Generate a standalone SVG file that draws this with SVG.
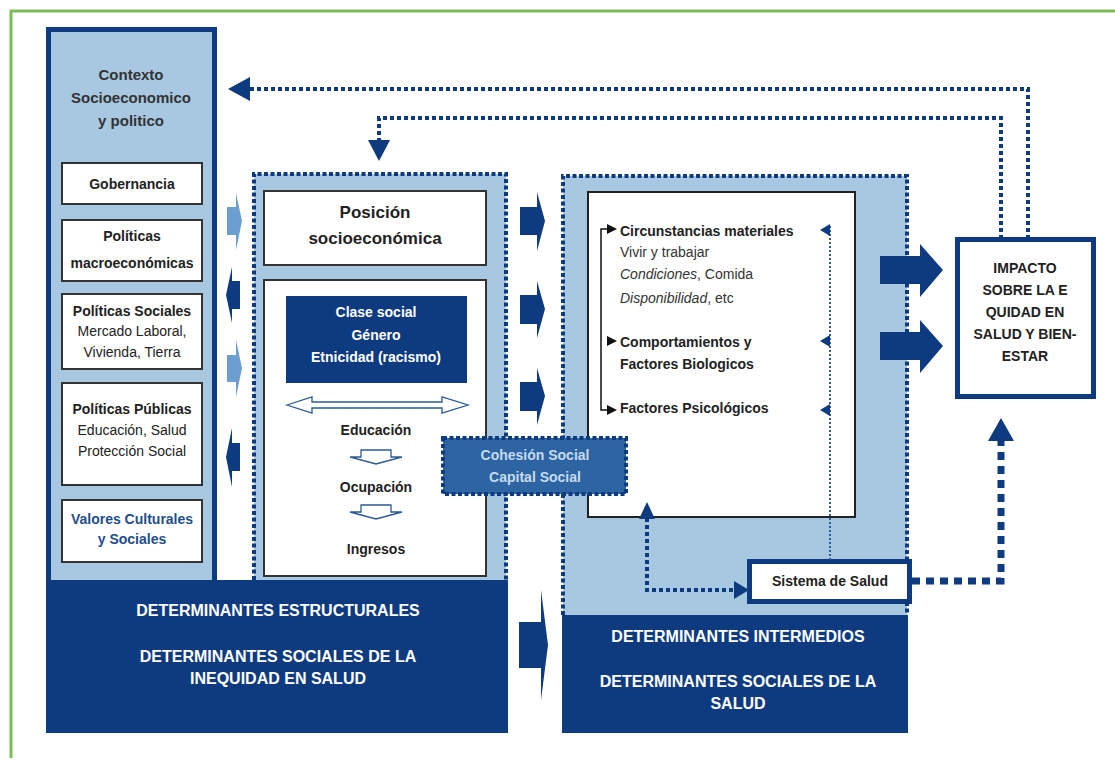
<svg xmlns="http://www.w3.org/2000/svg" width="1115" height="762" viewBox="0 0 1115 762">
<style>
text{font-family:"Liberation Sans",Arial,sans-serif;}
.b{font-weight:bold;}
.c{text-anchor:middle;}
.t{fill:#222;font-size:14px;}
.w{fill:#fff;}
.dk{fill:#0e3b80;}
.lt{fill:#a8c8e2;}
.wb{fill:#fff;stroke:#333;stroke-width:2;}
.dot{fill:none;stroke:#0e3b80;stroke-width:4;stroke-dasharray:4 2.5;}
.dotl{fill:none;stroke:#0e3b80;stroke-width:4;stroke-dasharray:4 3;}
.hol{fill:#fff;stroke:#2c5a96;stroke-width:1.3;}
.ltar{fill:#6c9fcf;}
.big{fill:#fff;font-size:16px;font-weight:bold;}
</style>
<rect width="1115" height="762" fill="#fff"/>
<path d="M11 758 V11 H1115" fill="none" stroke="#7dbb57" stroke-width="3"/>

<g id="contexto">
<rect x="48.5" y="29.5" width="166" height="553" class="lt" stroke="#0e3b80" stroke-width="5"/>
<text class="b c" x="131" y="80" fill="#333" font-size="15">Contexto</text>
<text class="b c" x="131" y="103" fill="#333" font-size="15">Socioeconomico</text>
<text class="b c" x="131" y="126" fill="#333" font-size="15">y politico</text>
</g>
<g id="gobernancia">
<rect x="62" y="163" width="140" height="41" class="wb"/>
<text class="t b c" x="132" y="189">Gobernancia</text>
</g>
<g id="macro">
<rect x="62" y="220" width="140" height="61" class="wb"/>
<text class="t b c" x="132" y="241">Políticas</text>
<text class="t b c" x="132" y="268">macroeconómicas</text>
</g>
<g id="sociales">
<rect x="62" y="294" width="140" height="75" class="wb"/>
<text class="t b c" x="132" y="316">Políticas Sociales</text>
<text class="t c" x="132" y="336">Mercado Laboral,</text>
<text class="t c" x="132" y="357">Vivienda, Tierra</text>
</g>
<g id="publicas">
<rect x="62" y="383" width="140" height="102" class="wb"/>
<text class="t b c" x="132" y="414">Políticas Públicas</text>
<text class="t c" x="132" y="435">Educación, Salud</text>
<text class="t c" x="132" y="456">Protección Social</text>
</g>
<g id="valores">
<rect x="62" y="500" width="140" height="62" class="wb"/>
<text class="b c" x="132" y="524" fill="#1f4e8c" font-size="14">Valores Culturales</text>
<text class="b c" x="132" y="544" fill="#1f4e8c" font-size="14">y Sociales</text>
</g>

<g id="estructurales">
<rect x="46" y="580" width="462" height="153" class="dk"/>
<text class="big c" x="278" y="616">DETERMINANTES ESTRUCTURALES</text>
<text class="big c" x="278" y="662">DETERMINANTES SOCIALES DE LA</text>
<text class="big c" x="278" y="684">INEQUIDAD EN SALUD</text>
</g>

<g id="posicion-region">
<rect x="254" y="174" width="252" height="406" class="lt"/>
<path d="M254 580 V174 H506 V580" class="dot"/>
</g>
<g id="posicion">
<rect x="264" y="191" width="222" height="74" class="wb"/>
<text class="b c" x="375" y="218" fill="#222" font-size="17">Posición</text>
<text class="b c" x="375" y="244" fill="#222" font-size="17">socioeconómica</text>
</g>
<g id="estratificadores">
<rect x="264" y="280" width="222" height="296" class="wb"/>
</g>
<g id="clase">
<rect x="286" y="296" width="181" height="87" class="dk"/>
<text class="b c w" x="376" y="317" font-size="14">Clase social</text>
<text class="b c w" x="376" y="340" font-size="14">Género</text>
<text class="b c w" x="376" y="362" font-size="14">Etnicidad (racismo)</text>
</g>
<g id="educacion">
<polygon class="hol" points="287,405 312,397 312,402 442,402 442,397 468,405 442,413 442,408 312,408 312,413"/>
<text class="t b c" x="376" y="435">Educación</text>
<polygon class="hol" points="361,450 391,450 391,457 402,457 376,464 350,457 361,457"/>
<text class="t b c" x="376" y="492">Ocupación</text>
<polygon class="hol" points="361,505 391,505 391,512 402,512 376,519 350,512 361,512"/>
<text class="t b c" x="376" y="554">Ingresos</text>
</g>

<g id="intermedios-region">
<rect x="563" y="176" width="344" height="439" class="lt"/>
<path d="M563 615 V176 H907 V615" class="dot"/>
<rect x="588" y="192" width="267" height="325" fill="#fff" stroke="#222" stroke-width="2"/>
</g>
<g id="circunstancias">
<text class="b" x="620" y="236" fill="#222" font-size="14">Circunstancias materiales</text>
<text x="620" y="257" fill="#333" font-size="14">Vivir y trabajar</text>
<text x="620" y="279" fill="#333" font-size="14"><tspan font-style="italic">Condiciones</tspan>, Comida</text>
<text x="620" y="303" fill="#333" font-size="14"><tspan font-style="italic">Disponibilidad</tspan>, etc</text>
</g>
<g id="comportamientos">
<text class="b" x="620" y="347" fill="#222" font-size="14">Comportamientos y</text>
<text class="b" x="620" y="369" fill="#222" font-size="14">Factores Biologicos</text>
</g>
<g id="psicologicos">
<text class="b" x="620" y="413" fill="#222" font-size="14">Factores Psicológicos</text>
</g>

<g id="intermedios">
<rect x="562" y="615" width="346" height="118" class="dk"/>
<text class="big c" x="738" y="642">DETERMINANTES INTERMEDIOS</text>
<text class="big c" x="738" y="687">DETERMINANTES SOCIALES DE LA</text>
<text class="big c" x="738" y="709">SALUD</text>
</g>

<g id="cohesion">
<rect x="443" y="438" width="183" height="56" fill="#2d64a2"/>
<rect x="443" y="438" width="183" height="56" class="dot"/>
<text class="b c" x="535" y="460" fill="#c5dbef" font-size="14">Cohesión Social</text>
<text class="b c" x="535" y="482" fill="#c5dbef" font-size="14">Capital Social</text>
</g>

<g id="sistema">
<rect x="749.5" y="561.5" width="160" height="40" fill="#fff" stroke="#0e3b80" stroke-width="5"/>
<text class="t b c" x="830" y="586">Sistema de Salud</text>
</g>

<g id="impacto">
<rect x="957.5" y="239.5" width="136" height="157" fill="#fff" stroke="#0e3b80" stroke-width="5"/>
<text class="t b c" x="1025" y="273">IMPACTO</text>
<text class="t b c" x="1025" y="295">SOBRE LA E</text>
<text class="t b c" x="1025" y="317">QUIDAD EN</text>
<text class="t b c" x="1025" y="339">SALUD Y BIEN-</text>
<text class="t b c" x="1025" y="361">ESTAR</text>
</g>

<g id="connectors">
<polygon class="ltar" points="227,207 236,207 236,193 242,221 236,250 236,235 227,235"/>
<polygon class="dk" points="240,281 232,281 232,267 226,295 232,323 232,309 240,309"/>
<polygon class="ltar" points="227,355 236,355 236,340 242,368 236,397 236,382 227,382"/>
<polygon class="dk" points="240,443 232,443 232,428 226,457 232,487 232,471 240,471"/>
<polygon class="dk" points="520,207 537,207 537,192 545,221 537,251 537,235 520,235"/>
<polygon class="dk" points="520,295 537,295 537,281 545,309 537,338 537,324 520,324"/>
<polygon class="dk" points="520,382 537,382 537,368 545,396 537,425 537,411 520,411"/>
<polygon class="dk" points="519,622 541,622 541,590 548,645 541,700 541,668 519,668"/>
<polygon class="dk" points="880,256 920,256 920,244 943,270 920,297 920,284 880,284"/>
<polygon class="dk" points="880,332 920,332 920,320 943,346 920,373 920,360 880,360"/>
<path d="M1028 239 V89 H250" class="dotl"/>
<polygon class="dk" points="250,77 228,89 250,101"/>
<path d="M1001 239 V118 H379 V142" class="dotl"/>
<polygon class="dk" points="368,140 379,161 390,140"/>
<path d="M912 581 H1001 V440" fill="none" stroke="#0e3b80" stroke-width="7" stroke-dasharray="8 6"/>
<polygon class="dk" points="988,441 1001,418 1014,441"/>
<path d="M647 518 V590 H735" class="dotl"/>
<polygon class="dk" points="639,519 647,502 655,519"/>
<polygon class="dk" points="734,581 749,590 734,599"/>
<path d="M608 229 H601 V410 H608" fill="none" stroke="#111" stroke-width="1.5"/>
<polygon fill="#111" points="607,224 617,229 607,234"/>
<polygon fill="#111" points="607,336 617,341 607,346"/>
<polygon fill="#111" points="607,405 617,410 607,415"/>
<path d="M830 226 V561" fill="none" stroke="#2c5a96" stroke-width="2" stroke-dasharray="2 2"/>
<polygon class="dk" points="830,224 820,230 830,236"/>
<polygon class="dk" points="830,335 820,341 830,347"/>
<polygon class="dk" points="830,404 820,410 830,416"/>
</g>
</svg>
